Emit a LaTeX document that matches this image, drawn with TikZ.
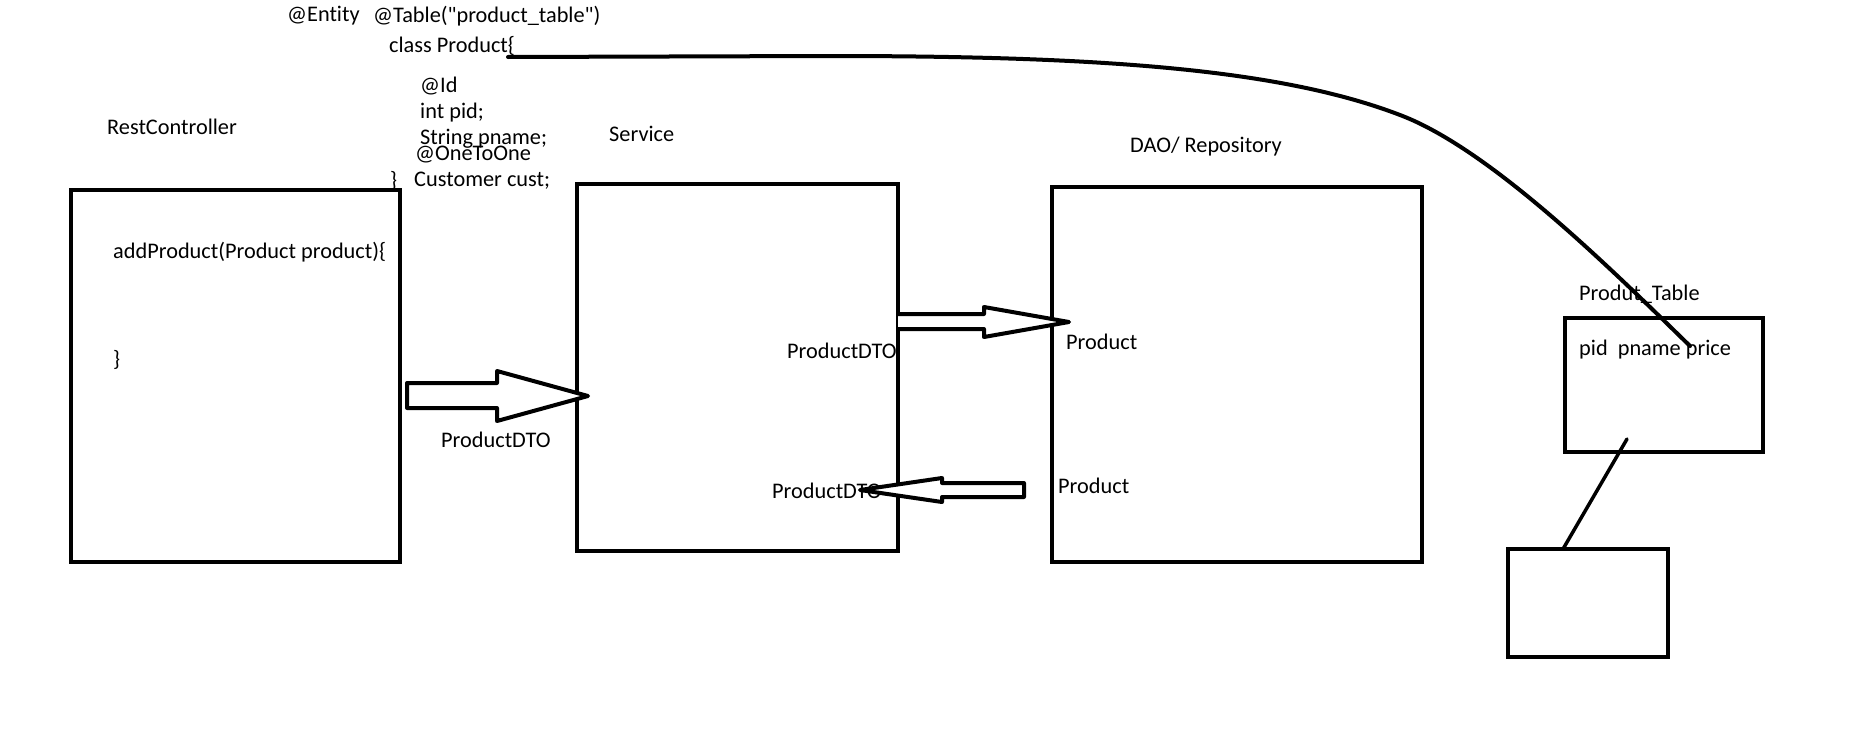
\documentclass[tikz,border=0pt]{standalone}
\usepackage{fontspec}
\setmainfont{Carlito}[Ligatures={NoCommon,TeXOff}]
\begin{document}
\begin{tikzpicture}[x=1pt,y=-1pt,
  box/.style={draw=black,line width=4pt,inner sep=0pt},
  lbl/.style={anchor=west,inner sep=0pt,font=\fontsize{22.3}{26}\selectfont},
  blockarrow/.style={draw=black,line width=4pt,line join=round,fill=white},
  link/.style={draw=black,line width=4pt,line cap=round}]
\useasboundingbox (0,0) rectangle (1863,744);
% boxes
\node[box,minimum width=329pt,minimum height=372pt] (rc) at (235.5,375.5) {};
\node[box,minimum width=321pt,minimum height=367pt] (svc) at (737,367.5) {};
\node[box,minimum width=370pt,minimum height=375pt] (dao) at (1237,374.5) {};
\node[box,minimum width=198pt,minimum height=134pt] (tbl) at (1664,385) {};
\node[box,minimum width=160pt,minimum height=108pt] (db) at (1588,603) {};
% top code text
\node[lbl] (ent) at (287,16) {@Entity};
\node[lbl] (tab) at (373,16) {@Table("product\_table")};
\node[lbl] (cls) at (389,46) {class Product\{};
\node[lbl] (id) at (420,86) {@Id};
\node[lbl] (pid) at (420,113) {int pid;};
\node[lbl] (pname) at (420,139) {String pname;};
\node[lbl] (oto) at (415,155) {@OneToOne};
\node[lbl] (cb) at (390,181) {\}};
\node[lbl] (cust) at (414,181) {Customer cust;};
% titles
\node[lbl] (rct) at (107,127) {RestController};
\node[lbl] (svct) at (609,134) {Service};
\node[lbl] (daot) at (1130,147) {DAO/ Repository};
\node[lbl] (tblt) at (1579,294) {Produt\_Table};
% inner texts
\node[lbl] (add) at (113,252) {addProduct(Product product)\{};
\node[lbl] (addend) at (113,360) {\}};
\node[lbl] (dto1) at (441,440) {ProductDTO};
\node[lbl] (dto2) at (787,351) {ProductDTO};
\node[lbl] (prod1) at (1066,342) {Product};
\node[lbl] (dto3) at (772,491) {ProductDTO};
\node[lbl] (prod2) at (1058,486) {Product};
\node[lbl] (cols) at (1579,350) {pid\ \ pname price};
% block arrows
\draw[blockarrow] (407,383) -- (497,383) -- (497,371) -- (588,396) -- (497,421) -- (497,408) -- (407,408) -- cycle;
\draw[blockarrow] (898,314) -- (984,314) -- (984,307) -- (1069,322) -- (984,337) -- (984,329) -- (898,329);
\draw[blockarrow] (1024,483) -- (942,483) -- (942,478) -- (860,490) -- (942,502) -- (942,497) -- (1024,497) -- cycle;
% curve from class to table column
\coordinate (cstart) at (508,57);
\coordinate (c1) at (830,56);
\coordinate (c2) at (1400,115);
\coordinate (cend) at (1690,346);
\draw[link] (cstart) -- (c1) .. controls (1100,56) and (1280,69) .. (c2)
  .. controls (1490,149) and (1610,268) .. (cend);
% table to lower box
\coordinate (tin) at (1627,439);
\coordinate (dbtop) at (1563,549);
\draw[draw=black,line width=3.5pt,line cap=round] (tin) -- (dbtop);
\end{tikzpicture}
\end{document}
